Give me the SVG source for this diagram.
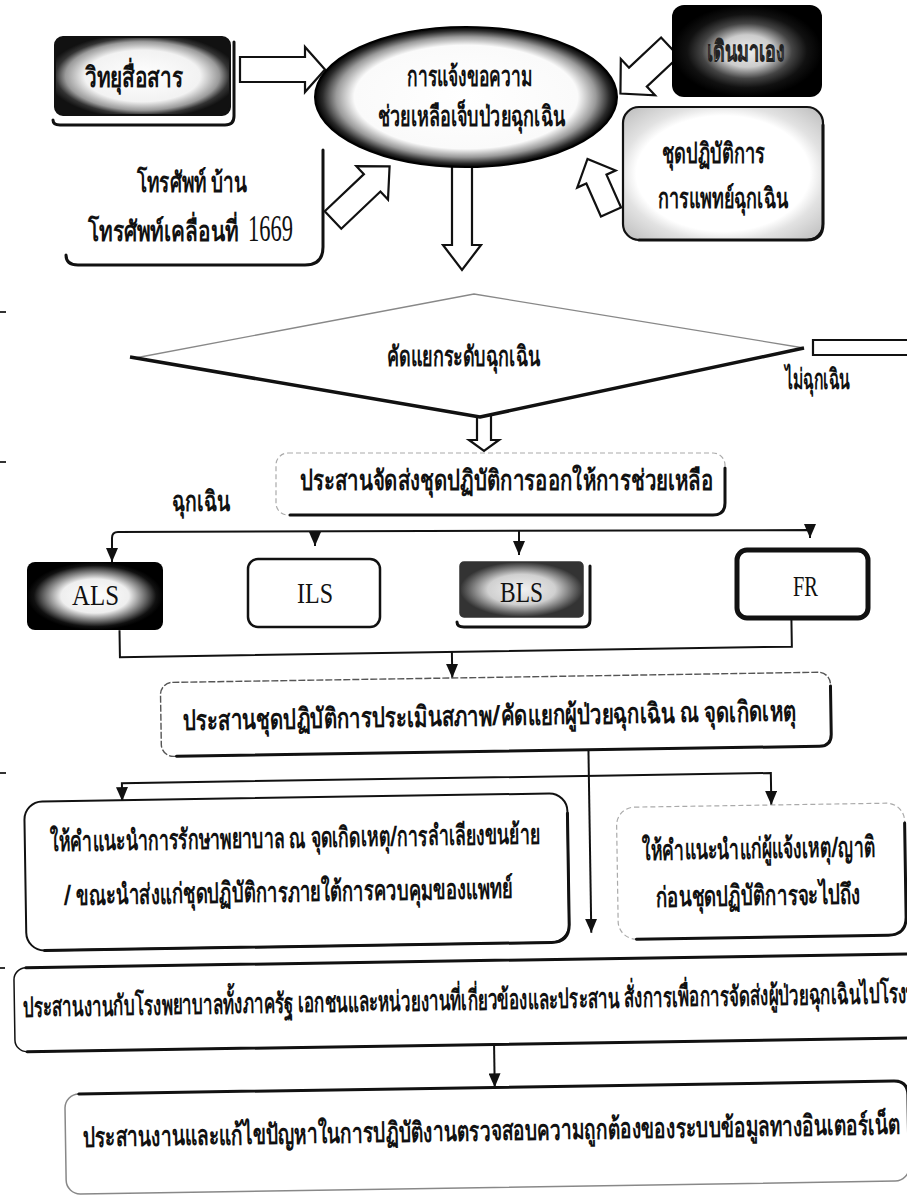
<svg xmlns="http://www.w3.org/2000/svg" width="907" height="1197" viewBox="0 0 907 1197">
<defs>
<style>
.t{font-family:"Noto Sans",sans-serif;font-weight:bold;fill:#111;font-size:28px}
.lat{font-family:"Liberation Serif",serif;fill:#111;font-size:30px}
.conn{stroke:#111;stroke-width:2;fill:none}
.barrow{fill:#fff;stroke:#111;stroke-width:2.2;stroke-linejoin:miter}
.edge{fill:none;stroke:#111;stroke-width:3;stroke-linecap:round}
.mark{stroke:#333;stroke-width:2}
</style>
<radialGradient id="darkGlow" cx="0.5" cy="0.5" r="0.55">
<stop offset="0" stop-color="#fff"/><stop offset="0.6" stop-color="#f2f2f2"/><stop offset="0.8" stop-color="#9a9a9a"/><stop offset="0.9" stop-color="#333"/><stop offset="1" stop-color="#111"/>
</radialGradient>
<radialGradient id="darkGlow2" cx="0.5" cy="0.5" r="0.5">
<stop offset="0" stop-color="#eee"/><stop offset="0.35" stop-color="#ccc"/><stop offset="0.6" stop-color="#444"/><stop offset="0.8" stop-color="#111"/><stop offset="1" stop-color="#000"/>
</radialGradient>
<radialGradient id="alsGlow" cx="0.5" cy="0.5" r="0.5">
<stop offset="0" stop-color="#fff"/><stop offset="0.5" stop-color="#eee"/><stop offset="0.75" stop-color="#666"/><stop offset="0.9" stop-color="#111"/><stop offset="1" stop-color="#000"/>
</radialGradient>
<radialGradient id="grayGlow" cx="0.5" cy="0.5" r="0.5">
<stop offset="0" stop-color="#f2f2f2"/><stop offset="0.55" stop-color="#d0d0d0"/><stop offset="0.85" stop-color="#666"/><stop offset="1" stop-color="#333"/>
</radialGradient>
<radialGradient id="ellGlow" cx="0.5" cy="0.5" r="0.5">
<stop offset="0" stop-color="#fff"/><stop offset="0.74" stop-color="#fafafa"/><stop offset="0.86" stop-color="#9a9a9a"/><stop offset="0.95" stop-color="#2a2a2a"/><stop offset="1" stop-color="#000"/>
</radialGradient>
<radialGradient id="lightEdge" cx="0.5" cy="0.5" r="0.7">
<stop offset="0" stop-color="#fff"/><stop offset="0.62" stop-color="#fff"/><stop offset="0.73" stop-color="#e2e2e2"/><stop offset="1" stop-color="#bbb"/>
</radialGradient>
<marker id="ah" viewBox="0 0 14 12" refX="14" refY="6" markerWidth="14" markerHeight="12" markerUnits="userSpaceOnUse" orient="auto">
<path d="M0,0 L14,6 L0,12 z" fill="#111"/>
</marker>
</defs>
<rect width="907" height="1197" fill="#fff"/>

<g id="margin-marks">
<line class="mark" x1="0" y1="312" x2="6" y2="312"/>
<line class="mark" x1="0" y1="462" x2="6" y2="462"/>
<line class="mark" x1="0" y1="773" x2="6" y2="773"/>
<line class="mark" x1="0" y1="968" x2="5" y2="968"/>
</g>

<g id="connectors">
<polygon class="barrow" transform="translate(240,69.5)" points="0,-12.5 65,-12.5 65,-22.5 85,0 65,22.5 65,12.5 0,12.5"/>
<polygon class="barrow" transform="translate(333,220) rotate(-43.5)" points="0,-12 54,-12 54,-23 78,0 54,23 54,12 0,12"/>
<polygon class="barrow" transform="translate(670,47) rotate(136.8)" points="0,-13 44,-13 44,-25 68,0 44,25 44,13 0,13"/>
<polygon class="barrow" transform="translate(611,212) rotate(-113.9)" points="0,-11 36,-11 36,-21 58,0 36,21 36,11 0,11"/>
<polygon class="barrow" transform="translate(462,160) rotate(90)" points="0,-10 85,-10 85,-19 110,0 85,19 85,10 0,10"/>
<polygon class="barrow" transform="translate(484,408) rotate(90)" points="0,-7 32,-7 32,-15 43,0 32,15 32,7 0,7"/>
<path d="M910,340 L813,340 L813,355 L910,355" fill="#fff" stroke="#111" stroke-width="2.2"/>
<path class="conn" d="M112,562 L112,538 Q112,532 118,532 L810,530 L810,538" marker-end="url(#ah)"/>
<path class="conn" d="M315,531 L315,546" marker-end="url(#ah)"/>
<path class="conn" d="M519,531 L519,555" marker-end="url(#ah)"/>
<path class="conn" d="M112,540 L112,562" marker-end="url(#ah)"/>
<g transform="rotate(-0.9 453 850)">
<path class="conn" d="M123,625 L123,652 L795,652 L795,624"/>
<path class="conn" d="M455,652 L455,678" marker-end="url(#ah)"/>
<path class="conn" d="M590,752 L590,935" marker-end="url(#ah)"/>
<path class="conn" d="M123,796 L123,778 L772,778 L772,810" marker-end="url(#ah)"/>
<path class="conn" d="M123,785 L123,796" marker-end="url(#ah)"/>
<path class="conn" d="M491,1045 L491,1088" marker-end="url(#ah)"/>
</g>
</g>

<g id="node-radio">
<rect x="55" y="37" width="175" height="78" rx="8" fill="url(#darkGlow)" stroke="#111" stroke-width="2"/>
<path class="edge" d="M234,42 L234,116 Q234,125 225,125 L60,125 Q53,125 53,120"/>
<text class="t" x="85" y="87" textLength="98" lengthAdjust="spacingAndGlyphs">วิทยุสื่อสาร</text>
</g>

<g id="node-request">
<ellipse cx="466" cy="97" rx="151" ry="70" fill="url(#ellGlow)" stroke="#000" stroke-width="2"/>
<text class="t" x="407" y="86" textLength="125" lengthAdjust="spacingAndGlyphs">การแจ้งขอความ</text>
<text class="t" x="378" y="126" textLength="187" lengthAdjust="spacingAndGlyphs">ช่วยเหลือเจ็บป่วยฉุกเฉิน</text>
</g>

<g id="node-phone">
<path class="edge" d="M323,150 L323,247 Q323,265 305,265 L78,265 Q66,265 66,255"/>
<text class="t" x="137" y="192" textLength="110" lengthAdjust="spacingAndGlyphs">โทรศัพท์ บ้าน</text>
<text class="t" x="88" y="241"><tspan textLength="150" lengthAdjust="spacingAndGlyphs">โทรศัพท์เคลื่อนที่</tspan><tspan x="248" y="241" style="font-family:'Liberation Serif',serif;font-weight:normal;font-size:38px" textLength="45" lengthAdjust="spacingAndGlyphs">1669</tspan></text>
</g>

<g id="node-walkin">
<rect x="672" y="5" width="150" height="92" rx="12" fill="url(#darkGlow2)"/>
<text class="t" x="707" y="61" textLength="78" lengthAdjust="spacingAndGlyphs" style="fill:#fff;stroke:#222;stroke-width:0.9">เดินมาเอง</text>
</g>

<g id="node-ems">
<rect x="623" y="107" width="200" height="133" rx="16" fill="url(#lightEdge)" stroke="#111" stroke-width="2.2"/>
<path class="edge" d="M823,125 L823,224 Q823,240 807,240 L639,240" stroke-width="2.5"/>
<text class="t" x="662" y="163" textLength="103" lengthAdjust="spacingAndGlyphs">ชุดปฏิบัติการ</text>
<text class="t" x="658" y="208" textLength="130" lengthAdjust="spacingAndGlyphs">การแพทย์ฉุกเฉิน</text>
</g>

<g id="node-triage">
<polygon points="135,358 474,294 804,348 480,417" fill="#fff" stroke="#888" stroke-width="1.3"/>
<path d="M130,357 L480,417 L804,348" fill="none" stroke="#111" stroke-width="3.5" stroke-linejoin="round"/>
<text class="t" x="387" y="366" textLength="153" lengthAdjust="spacingAndGlyphs">คัดแยกระดับฉุกเฉิน</text>
</g>

<g id="label-nonurgent">
<text class="t" x="785" y="389" textLength="65" lengthAdjust="spacingAndGlyphs">ไม่ฉุกเฉิน</text>
</g>

<g id="node-dispatch">
<rect x="276" y="453" width="449" height="62" rx="12" fill="#fff" stroke="#aaa" stroke-width="1.2" stroke-dasharray="5 3"/>
<path class="edge" d="M725,468 L725,503 Q725,515 713,515 L290,515" stroke-width="2.2"/>
<text class="t" x="300" y="490" textLength="413" lengthAdjust="spacingAndGlyphs">ประสานจัดส่งชุดปฏิบัติการออกให้การช่วยเหลือ</text>
</g>

<g id="label-urgent">
<text class="t" x="172" y="511" textLength="58" lengthAdjust="spacingAndGlyphs">ฉุกเฉิน</text>
</g>

<g id="node-als">
<rect x="27" y="562" width="136" height="68" rx="8" fill="url(#alsGlow)"/>
<text class="lat" x="72" y="605" textLength="47" lengthAdjust="spacingAndGlyphs">ALS</text>
</g>

<g id="node-ils">
<rect x="248" y="559" width="132" height="68" rx="10" fill="#fff" stroke="#111" stroke-width="2.5"/>
<text class="lat" x="297" y="603" textLength="36" lengthAdjust="spacingAndGlyphs">ILS</text>
</g>

<g id="node-bls">
<rect x="460" y="562" width="123" height="55" rx="4" fill="url(#grayGlow)" stroke="#333" stroke-width="1.5"/>
<path class="edge" d="M590,566 L590,620 Q590,627 583,627 L464,627 Q457,627 457,622" stroke-width="2.5"/>
<text class="lat" x="500" y="602" textLength="43" lengthAdjust="spacingAndGlyphs">BLS</text>
</g>

<g id="node-fr">
<rect x="737" y="550" width="131" height="68" rx="10" fill="#fff" stroke="#111" stroke-width="5"/>
<text class="lat" x="793" y="596" textLength="25" lengthAdjust="spacingAndGlyphs">FR</text>
</g>

<g id="node-assess" transform="rotate(-0.9 453 850)">
<rect x="163" y="678" width="670" height="74" rx="12" fill="#fff" stroke="#555" stroke-width="1.4" stroke-dasharray="7 2"/>
<path class="edge" d="M833,692 L833,740 Q833,752 821,752 L178,752" stroke-width="2.5"/>
<text class="t" x="185" y="726" textLength="613" lengthAdjust="spacingAndGlyphs">ประสานชุดปฏิบัติการประเมินสภาพ/คัดแยกผู้ป่วยฉุกเฉิน ณ จุดเกิดเหตุ</text>
</g>

<g id="node-advice-care" transform="rotate(-0.9 453 850)">
<rect x="25" y="795" width="543" height="149" rx="18" fill="#fff" stroke="#111" stroke-width="2"/>
<path class="edge" d="M568,815 L568,926 Q568,944 550,944 L43,944" stroke-width="2.5"/>
<text class="t" x="50" y="845" textLength="490" lengthAdjust="spacingAndGlyphs">ให้คำแนะนำการรักษาพยาบาล ณ จุดเกิดเหตุ/การลำเลียงขนย้าย</text>
<text class="t" x="63" y="899" textLength="449" lengthAdjust="spacingAndGlyphs">/ ขณะนำส่งแก่ชุดปฏิบัติการภายใต้การควบคุมของแพทย์</text>
</g>

<g id="node-advice-caller" transform="rotate(-0.9 453 850)">
<rect x="617" y="810" width="288" height="132" rx="18" fill="#fff" stroke="#aaa" stroke-width="1.2" stroke-dasharray="5 3"/>
<path class="edge" d="M905,830 L905,924 Q905,942 887,942 L635,942" stroke-width="2.5"/>
<text class="t" x="642" y="863" textLength="233" lengthAdjust="spacingAndGlyphs">ให้คำแนะนำแก่ผู้แจ้งเหตุ/ญาติ</text>
<text class="t" x="655" y="910" textLength="205" lengthAdjust="spacingAndGlyphs">ก่อนชุดปฏิบัติการจะไปถึง</text>
</g>

<g id="node-hospital" transform="rotate(-0.9 453 850)">
<rect x="12" y="961" width="940" height="84" rx="12" fill="#fff" stroke="#111" stroke-width="1.5"/>
<path class="edge" d="M24,961 L950,961 M24,1045 L950,1045" stroke-width="3"/>
<text class="t" x="20" y="1010" textLength="895" lengthAdjust="spacingAndGlyphs">ประสานงานกับโรงพยาบาลทั้งภาครัฐ เอกชนและหน่วยงานที่เกี่ยวข้องและประสาน สั่งการเพื่อการจัดส่งผู้ป่วยฉุกเฉินไปโรงพ</text>
</g>

<g id="node-internet" transform="rotate(-0.9 453 850)">
<rect x="61" y="1088" width="843" height="100" rx="14" fill="#fff" stroke="#888" stroke-width="1.5"/>
<path class="edge" d="M75,1088 L890,1088 Q904,1088 904,1102 L904,1176" stroke-width="3"/>
<text class="t" x="78" y="1141" textLength="818" lengthAdjust="spacingAndGlyphs">ประสานงานและแก้ไขปัญหาในการปฏิบัติงานตรวจสอบความถูกต้องของระบบข้อมูลทางอินเตอร์เน็ต</text>
</g>
</svg>
